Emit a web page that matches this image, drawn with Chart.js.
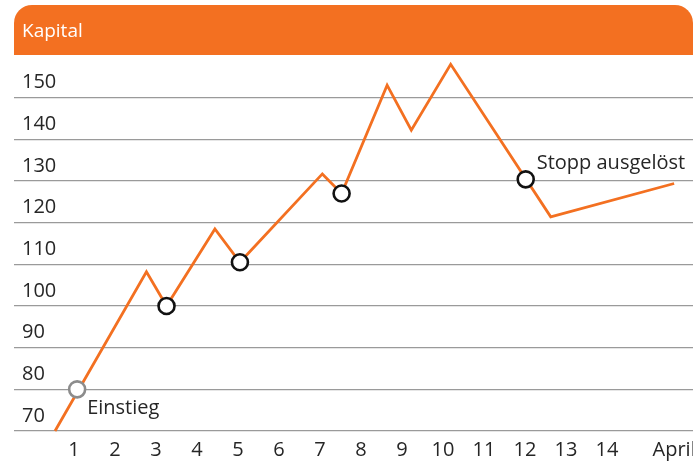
<!DOCTYPE html>
<html>
<head>
<meta charset="utf-8">
<script src="https://cdn.jsdelivr.net/npm/chart.js@4.4.1/dist/chart.umd.min.js"></script>
<style>
  html, body { margin: 0; padding: 0; background: #ffffff; }
  canvas { display: block; }
</style>
</head>
<body>
<canvas id="c" width="693" height="464"></canvas>
<script>
// ---- data ----
const TITLE = 'Kapital';
const LINE_X = [0.54, 2.77, 3.26, 4.44, 5.05, 7.06, 7.53, 8.64, 9.23, 10.19, 12.63, 15.64];
const LINE_Y = [70, 108.2, 100, 118.5, 110.5, 131.7, 127, 153, 142.2, 158, 121.4, 129.4];
const MARK_X = [1.08, 3.26, 5.05, 7.53, 12.02];
const MARK_Y = [80, 100, 110.5, 127, 130.4];
const MARK_LABELS = ['Einstieg', '', '', '', 'Stopp ausgelöst'];
const Y_TICKS = [70, 80, 90, 100, 110, 120, 130, 140, 150];
const X_TICK_VALUES = [1, 2, 3, 4, 5, 6, 7, 8, 9, 10, 11, 12, 13, 14, 15.64];
const X_TICK_LABELS = ['1', '2', '3', '4', '5', '6', '7', '8', '9', '10', '11', '12', '13', '14', 'April'];

const ORANGE = '#F37021';
const TEXT = '#262626';
const FONT = 'Open Sans';

Chart.defaults.font.family = FONT;
Chart.defaults.font.size = 20;
Chart.defaults.color = TEXT;

const headerPlugin = {
  id: 'header',
  beforeDraw(chart) {
    const ctx = chart.ctx;
    ctx.save();
    ctx.fillStyle = ORANGE;
    ctx.beginPath();
    ctx.roundRect(14, 5, 679, 50, [18, 18, 0, 0]);
    ctx.fill();
    ctx.fillStyle = '#ffffff';
    ctx.font = '19px "' + FONT + '"';
    ctx.textBaseline = 'middle';
    ctx.textAlign = 'left';
    ctx.fillText(TITLE, 22, 32);
    ctx.restore();
  }
};

const annotPlugin = {
  id: 'annot',
  afterDatasetsDraw(chart) {
    const ctx = chart.ctx;
    const xs = chart.scales.x, ys = chart.scales.y;
    ctx.save();
    ctx.fillStyle = TEXT;
    ctx.font = '20px "' + FONT + '"';
    ctx.textAlign = 'left';
    ctx.textBaseline = 'middle';
    MARK_LABELS.forEach((t, i) => {
      if (!t) return;
      const px = xs.getPixelForValue(MARK_X[i]);
      const py = ys.getPixelForValue(MARK_Y[i]);
      if (i === 0) ctx.fillText(t, px + 10, py + 19);
      else ctx.fillText(t, px + 11, py - 16);
    });
    ctx.restore();
  }
};

new Chart(document.getElementById('c'), {
  type: 'scatter',
  data: {
    datasets: [
      {
        data: MARK_X.map((x, i) => ({ x: x, y: MARK_Y[i] })),
        showLine: false,
        pointRadius: 8,
        pointBorderWidth: 2.6,
        pointBackgroundColor: '#ffffff',
        pointBorderColor: MARK_X.map((x, i) => i === 0 ? '#8c8c8c' : '#111111'),
        clip: false
      },
      {
        data: LINE_X.map((x, i) => ({ x: x, y: LINE_Y[i] })),
        showLine: true,
        borderColor: ORANGE,
        borderWidth: 2.8,
        pointRadius: 0,
        tension: 0,
        clip: false
      }
    ]
  },
  options: {
    responsive: false,
    animation: false,
    events: [],
    layout: { autoPadding: false, padding: { top: 56, left: 14, right: 0, bottom: 2 } },
    plugins: { legend: { display: false }, tooltip: { enabled: false }, title: { display: false } },
    scales: {
      x: {
        type: 'linear',
        min: -0.46,
        max: 16.1,
        afterBuildTicks: (s) => { s.ticks = X_TICK_VALUES.map(v => ({ value: v })); },
        afterFit: (s) => { s.paddingLeft = 0; s.paddingRight = 0; },
        ticks: {
          autoSkip: false,
          maxRotation: 0,
          padding: 0,
          color: TEXT,
          callback: (v, i) => X_TICK_LABELS[i]
        },
        grid: { display: true, drawOnChartArea: false, drawTicks: true, tickLength: 7, color: 'rgba(0,0,0,0)' },
        border: { display: false }
      },
      y: {
        type: 'linear',
        min: 70,
        max: 160,
        afterBuildTicks: (s) => { s.ticks = Y_TICKS.map(v => ({ value: v })); },
        afterFit: (s) => { s.width = 0; },
        ticks: {
          mirror: true,
          padding: 8,
          labelOffset: -15,
          color: TEXT,
          callback: (v) => String(v)
        },
        grid: { color: '#9a9a9a', lineWidth: 1.3, drawTicks: false },
        border: { display: false }
      }
    }
  },
  plugins: [headerPlugin, annotPlugin]
});
</script>
</body>
</html>
